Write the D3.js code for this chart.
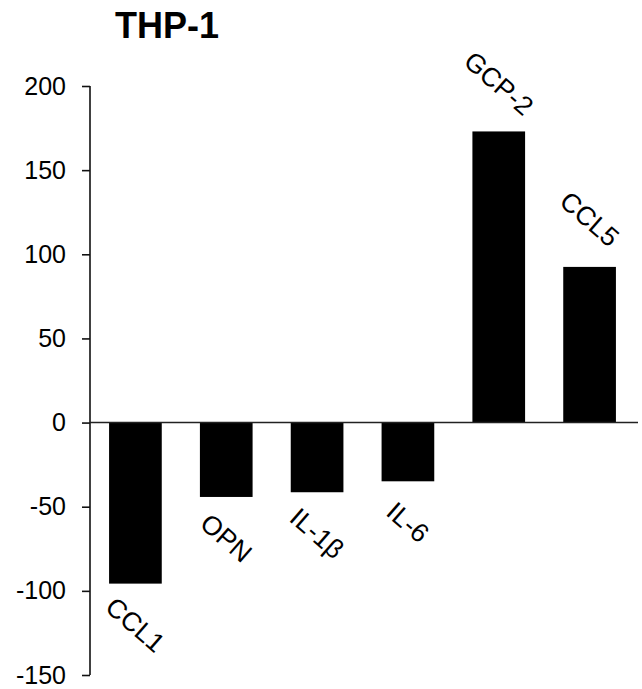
<!DOCTYPE html>
<html>
<head>
<meta charset="utf-8">
<script src="https://cdn.jsdelivr.net/npm/d3@7"></script>
<style>
  body { margin: 0; background: #fff; }
  svg { display: block; font-family: "Liberation Sans", Arial, sans-serif; }
</style>
</head>
<body>
<svg id="chart"></svg>
<script>
const categories = ["CCL1", "OPN", "IL-1β", "IL-6", "GCP-2", "CCL5"];
const values = [-95.7, -44.2, -41.4, -34.9, 173, 92.5];
const yTicks = [-150, -100, -50, 0, 50, 100, 150, 200];
const title = "THP-1";

const width = 642, height = 689;
const svg = d3.select("#chart").attr("width", width).attr("height", height);

const x = d3.scaleBand()
  .domain(categories)
  .range([90, 635])
  .paddingInner(0.42)
  .paddingOuter(0.21);

const y = d3.scaleLinear().domain([-150, 200]).range([675, 86]);

// y axis (plain hyphen for negatives, like the original)
const yAxis = svg.append("g")
  .attr("transform", "translate(90,0)")
  .call(d3.axisLeft(y).tickValues(yTicks).tickSize(8).tickPadding(16).tickFormat(d => String(d)));
yAxis.select(".domain").attr("stroke", "#111").attr("stroke-width", 1.6)
  .attr("d", `M0,${y(200)}V${y(-150)}`);
yAxis.selectAll(".tick line").attr("stroke", "#111").attr("stroke-width", 1.6);
yAxis.selectAll(".tick text")
  .attr("font-size", 25)
  .attr("font-family", "Liberation Sans, Arial, sans-serif")
  .attr("fill", "#000");

// bars
svg.selectAll(".bar")
  .data(categories)
  .enter()
  .append("rect")
  .attr("class", "bar")
  .attr("x", d => x(d))
  .attr("width", x.bandwidth())
  .attr("y", (d, i) => y(Math.max(0, values[i])))
  .attr("height", (d, i) => Math.abs(y(values[i]) - y(0)))
  .attr("fill", "#000");

// zero line
svg.append("line")
  .attr("x1", 90).attr("x2", 638)
  .attr("y1", y(0)).attr("y2", y(0))
  .attr("stroke", "#222")
  .attr("stroke-width", 1.6);

// category labels, rotated
svg.selectAll(".lbl")
  .data(categories)
  .enter()
  .append("text")
  .attr("class", "lbl")
  .attr("text-anchor", "middle")
  .attr("font-size", 26.5)
  .attr("transform", (d, i) => {
    const cx = x(d) + x.bandwidth() / 2;
    const cy = values[i] < 0 ? y(values[i]) + 41 : y(values[i]) - 48;
    return `translate(${cx - 6},${cy + 7}) rotate(41)`;
  })
  .text(d => d);

// title
svg.append("text")
  .attr("x", 115)
  .attr("y", 38)
  .attr("font-size", 36)
  .attr("font-weight", "bold")
  .text(title);
</script>
</body>
</html>
